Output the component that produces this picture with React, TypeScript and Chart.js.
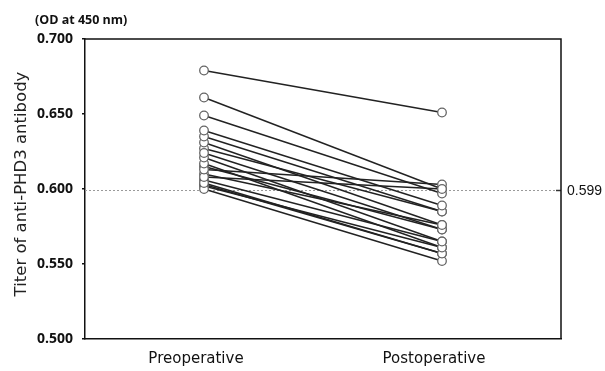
import React, { useEffect, useRef } from "react";
import { Chart, registerables } from "chart.js";

Chart.register(...registerables);

const categories = ["Preoperative", "Postoperative"];
const preValues = [0.679, 0.661, 0.649, 0.639, 0.635, 0.631, 0.624, 0.621, 0.617, 0.613, 0.608, 0.604, 0.600, 0.610, 0.606, 0.602, 0.627, 0.615, 0.603];
const postValues = [0.651, 0.600, 0.597, 0.589, 0.585, 0.576, 0.573, 0.565, 0.561, 0.603, 0.600, 0.557, 0.552, 0.576, 0.565, 0.561, 0.585, 0.573, 0.557];
const yTicks = [0.5, 0.55, 0.6, 0.65, 0.7];
const cutoff = 0.599;
const unitLabel = "(OD at 450 nm)";
const yTitle = "Titer of anti-PHD3 antibody";

const extrasPlugin = {
  id: "extras",
  beforeDatasetsDraw(chart: any) {
    const { ctx, chartArea, scales } = chart;
    const y = scales.y.getPixelForValue(cutoff);
    ctx.save();
    ctx.strokeStyle = "#9a9a9a";
    ctx.lineWidth = 1;
    ctx.setLineDash([2, 2]);
    ctx.beginPath();
    ctx.moveTo(chartArea.left, y);
    ctx.lineTo(chartArea.right, y);
    ctx.stroke();
    ctx.setLineDash([]);
    ctx.strokeStyle = "#333";
    ctx.lineWidth = 1.5;
    ctx.beginPath();
    ctx.moveTo(chartArea.right - 5, y);
    ctx.lineTo(chartArea.right, y);
    ctx.stroke();
    ctx.restore();
  },
  afterDraw(chart: any) {
    const { ctx, chartArea, scales } = chart;
    ctx.save();
    ctx.strokeStyle = "#111";
    ctx.lineWidth = 1.5;
    ctx.beginPath();
    ctx.moveTo(chartArea.left, chartArea.top);
    ctx.lineTo(chartArea.right, chartArea.top);
    ctx.lineTo(chartArea.right, chartArea.bottom);
    ctx.stroke();

    ctx.fillStyle = "#111";
    ctx.font = "bold 12.5px 'Open Sans'";
    ctx.textAlign = "left";
    ctx.textBaseline = "middle";
    ctx.fillText(unitLabel, 35, 20);

    const y = scales.y.getPixelForValue(cutoff);
    ctx.font = "14px 'Liberation Sans'";
    ctx.fillText(cutoff.toFixed(3), chartArea.right + 6, y + 1);

    ctx.translate(22, 184);
    ctx.rotate(-Math.PI / 2);
    ctx.textAlign = "center";
    ctx.font = "16.5px 'DejaVu Sans'";
    ctx.fillStyle = "#222";
    ctx.fillText(yTitle, 0, 0);
    ctx.restore();
  },
};

export default function App() {
  const ref = useRef<HTMLCanvasElement>(null);
  useEffect(() => {
    if (!ref.current) return;
    const datasets = preValues.map((p, i) => ({
      data: [p, postValues[i]],
      borderColor: "#222",
      borderWidth: 1.4,
      pointRadius: 4.3,
      pointBorderWidth: 1.3,
      pointBorderColor: "#666",
      pointBackgroundColor: "#fff",
      fill: false,
      tension: 0,
    }));
    const chart = new Chart(ref.current, {
      type: "line",
      data: { labels: categories, datasets },
      plugins: [extrasPlugin],
      options: {
        animation: false,
        responsive: false,
        layout: { padding: { top: 39, right: 44, left: 0, bottom: 0 } },
        plugins: { legend: { display: false }, tooltip: { enabled: false } },
        scales: {
          x: {
            type: "category",
            offset: true,
            grid: { display: false },
            border: { color: "#111", width: 1.5 },
            ticks: {
              color: "#111",
              font: { family: "DejaVu Sans", size: 15 },
              padding: 3,
              labelOffset: -8,
            },
            afterFit: (s: any) => {
              s.height = 32;
            },
          },
          y: {
            min: 0.5,
            max: 0.7,
            afterBuildTicks: (s: any) => {
              s.ticks = yTicks.map((v) => ({ value: v }));
            },
            grid: {
              drawOnChartArea: false,
              drawTicks: true,
              tickLength: 3,
              color: "#111",
              lineWidth: 1.5,
            },
            border: { color: "#111", width: 1.5 },
            ticks: {
              color: "#111",
              font: { family: "Open Sans", size: 14, weight: "bold" },
              padding: 9,
              callback: (v: any) => Number(v).toFixed(3),
            },
            afterFit: (s: any) => {
              s.width = 85;
            },
          },
        },
      },
    });
    return () => chart.destroy();
  }, []);
  return (
    <div style={{ position: "fixed", left: 0, top: 0, width: 605, height: 371, background: "#fff" }}>
      <canvas ref={ref} width={605} height={371} />
    </div>
  );
}
